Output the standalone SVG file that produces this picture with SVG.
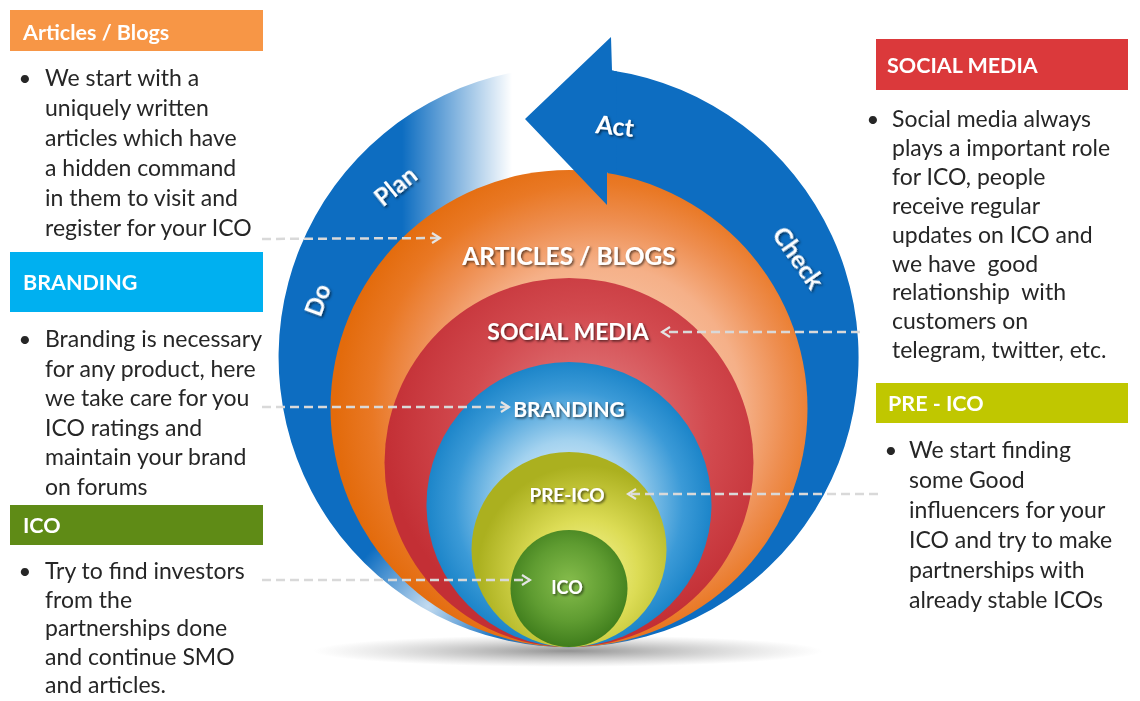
<svg xmlns="http://www.w3.org/2000/svg" width="1140" height="701" viewBox="0 0 1140 701">
<defs>
<style>
.hd{font-family:Lato,"Open Sans",sans-serif;font-weight:700;font-size:21.5px;fill:#ffffff}
.tx{font-family:Lato,"Open Sans",sans-serif;font-size:23px;fill:#262626}
.bl{font-family:Lato,"Open Sans",sans-serif;font-size:22px;fill:#262626;text-anchor:middle}
.lb{font-family:Lato,"Open Sans",sans-serif;font-weight:700;fill:#ffffff;text-anchor:middle}
.cn{fill:none;stroke:#d9d9d9;stroke-width:2.5;stroke-dasharray:9 5}
</style>
<filter id="sh" x="-20%" y="-40%" width="140%" height="180%">
<feDropShadow dx="1.5" dy="1.5" stdDeviation="1" flood-color="#000" flood-opacity="0.6"/>
</filter>
<marker id="ah" viewBox="0 0 12 12" refX="10" refY="6" markerWidth="12" markerHeight="12" markerUnits="userSpaceOnUse" orient="auto">
<path d="M2,1 L10,6 L2,11" fill="none" stroke="#e4e4e4" stroke-width="2.2"/>
</marker>
<radialGradient id="gShadow" cx="0.5" cy="0.5" r="0.5">
<stop offset="0" stop-color="#6e6e6e" stop-opacity="0.75"/>
<stop offset="1" stop-color="#9a9a9a" stop-opacity="0"/>
</radialGradient>
<linearGradient id="gFade" gradientUnits="userSpaceOnUse" x1="402" y1="0" x2="512" y2="0">
<stop offset="0" stop-color="#fff" stop-opacity="0"/>
<stop offset="1" stop-color="#fff" stop-opacity="1"/>
</linearGradient>
<radialGradient id="gLow" cx="0.5" cy="0.5" r="0.5">
<stop offset="0" stop-color="#fff" stop-opacity="0.75"/>
<stop offset="1" stop-color="#fff" stop-opacity="0"/>
</radialGradient>
<radialGradient id="gOr" cx="0.56" cy="0.5" r="0.55">
<stop offset="0" stop-color="#fbdcc6"/>
<stop offset="0.55" stop-color="#f5b088"/>
<stop offset="0.72" stop-color="#ee8e50"/>
<stop offset="0.86" stop-color="#e97824"/>
<stop offset="1" stop-color="#e36b0c"/>
</radialGradient>
<radialGradient id="gRd" cx="0.55" cy="0.42" r="0.55">
<stop offset="0" stop-color="#e7898b"/>
<stop offset="0.6" stop-color="#d24a4f"/>
<stop offset="1" stop-color="#c32f35"/>
</radialGradient>
<radialGradient id="gBl" cx="0.5" cy="0.5" r="0.5">
<stop offset="0" stop-color="#f2f9fd"/>
<stop offset="0.45" stop-color="#a3d2ef"/>
<stop offset="0.8" stop-color="#3b9ad7"/>
<stop offset="1" stop-color="#1c85c9"/>
</radialGradient>
<radialGradient id="gYl" cx="0.58" cy="0.62" r="0.55">
<stop offset="0" stop-color="#f8f79e"/>
<stop offset="0.5" stop-color="#dcdc55"/>
<stop offset="1" stop-color="#abb01f"/>
</radialGradient>
<radialGradient id="gGr" cx="0.5" cy="0.45" r="0.55">
<stop offset="0" stop-color="#86bd4c"/>
<stop offset="0.6" stop-color="#5f9c31"/>
<stop offset="1" stop-color="#3f7d1c"/>
</radialGradient>
</defs>
<rect width="1140" height="701" fill="#ffffff"/>

<g id="cycle">
<path d="M606,200 L612,70.4 A290,290 0 1 1 512,72.7 L512,200 Z" fill="#0d6dc1"/>
<rect x="400" y="40" width="120" height="200" fill="url(#gFade)"/>
<circle cx="428" cy="606" r="80" fill="url(#gLow)"/>
</g>
<ellipse id="shadow" cx="568" cy="651" rx="255" ry="16" fill="url(#gShadow)"/>

<g id="n-articles"><circle cx="569" cy="408.5" r="238.5" fill="url(#gOr)"/></g>
<g id="n-social"><circle cx="569" cy="462.5" r="184.5" fill="url(#gRd)"/></g>
<g id="n-branding"><circle cx="569" cy="504.5" r="142.5" fill="url(#gBl)"/></g>
<g id="n-preico"><circle cx="569" cy="549.5" r="97.5" fill="url(#gYl)"/></g>
<g id="n-ico"><circle cx="569" cy="588.5" r="58.5" fill="url(#gGr)"/></g>

<g id="act-arrow">
<path d="M611,37 L525,119 L607,205 L607,172.5 L616,172 L617,71.5 L612,70.4 Z" fill="#0d6dc1"/>
</g>

<g id="ring-labels" filter="url(#sh)">
<text class="lb" font-size="25" transform="translate(614,135) rotate(6)">Act</text>
<text class="lb" font-size="24" transform="translate(401,193) rotate(-39)">Plan</text>
<text class="lb" font-size="24" transform="translate(326,303) rotate(-70)">Do</text>
<text class="lb" font-size="25" transform="translate(791,263) rotate(55)">Check</text>
</g>

<g id="circle-labels" filter="url(#sh)">
<text class="lb" font-size="24.5" x="569" y="265">ARTICLES / BLOGS</text>
<text class="lb" font-size="23" x="568" y="340">SOCIAL MEDIA</text>
<text class="lb" font-size="21" x="569" y="417">BRANDING</text>
<text class="lb" font-size="19" x="567" y="502">PRE-ICO</text>
<text class="lb" font-size="18" x="567" y="594">ICO</text>
</g>

<g id="connectors">
<line class="cn" x1="262" y1="239" x2="440" y2="238" marker-end="url(#ah)"/>
<line class="cn" x1="860" y1="332" x2="662" y2="332" marker-end="url(#ah)"/>
<line class="cn" x1="262" y1="407" x2="509" y2="407" marker-end="url(#ah)"/>
<line class="cn" x1="878" y1="494" x2="628" y2="494" marker-end="url(#ah)"/>
<line class="cn" x1="262" y1="580" x2="530" y2="580" marker-end="url(#ah)"/>
</g>

<g id="box-articles">
<rect x="10" y="10" width="253" height="41" fill="#f79646"/>
<text class="hd" x="23" y="40">Articles / Blogs</text>
<text class="bl" x="25" y="86">•</text>
<text class="tx" x="45" y="86">We start with a</text>
<text class="tx" x="45" y="116">uniquely written</text>
<text class="tx" x="45" y="146">articles which have</text>
<text class="tx" x="45" y="176">a hidden command</text>
<text class="tx" x="45" y="206">in them to visit and</text>
<text class="tx" x="45" y="236">register for your ICO</text>
</g>

<g id="box-branding">
<rect x="10" y="252" width="253" height="60" fill="#00b0f0"/>
<text class="hd" x="23" y="290">BRANDING</text>
<text class="bl" x="25" y="347">•</text>
<text class="tx" x="45" y="347">Branding is necessary</text>
<text class="tx" x="45" y="376.5">for any product, here</text>
<text class="tx" x="45" y="406">we take care for you</text>
<text class="tx" x="45" y="435.5">ICO ratings and</text>
<text class="tx" x="45" y="465">maintain your brand</text>
<text class="tx" x="45" y="494.5">on forums</text>
</g>

<g id="box-ico">
<rect x="10" y="505" width="253" height="40" fill="#5f8b16"/>
<text class="hd" x="23" y="533">ICO</text>
<text class="bl" x="25" y="579">•</text>
<text class="tx" x="45" y="579">Try to find investors</text>
<text class="tx" x="45" y="607.5">from the</text>
<text class="tx" x="45" y="636">partnerships done</text>
<text class="tx" x="45" y="664.5">and continue SMO</text>
<text class="tx" x="45" y="693">and articles.</text>
</g>

<g id="box-social">
<rect x="876" y="39" width="252" height="51" fill="#db393b"/>
<text class="hd" x="887" y="73">SOCIAL MEDIA</text>
<text class="bl" x="873" y="127">•</text>
<text class="tx" x="892" y="127">Social media always</text>
<text class="tx" x="892" y="156">plays a important role</text>
<text class="tx" x="892" y="185">for ICO, people</text>
<text class="tx" x="892" y="214">receive regular</text>
<text class="tx" x="892" y="243">updates on ICO and</text>
<text class="tx" x="892" y="272" xml:space="preserve">we have  good</text>
<text class="tx" x="892" y="300" xml:space="preserve">relationship  with</text>
<text class="tx" x="892" y="329">customers on</text>
<text class="tx" x="892" y="358">telegram, twitter, etc.</text>
</g>

<g id="box-preico">
<rect x="876" y="383" width="252" height="40" fill="#c0c700"/>
<text class="hd" x="888" y="411">PRE - ICO</text>
<text class="bl" x="891" y="458">•</text>
<text class="tx" x="909" y="458">We start finding</text>
<text class="tx" x="909" y="488">some Good</text>
<text class="tx" x="909" y="518">influencers for your</text>
<text class="tx" x="909" y="548">ICO and try to make</text>
<text class="tx" x="909" y="578">partnerships with</text>
<text class="tx" x="909" y="608">already stable ICOs</text>
</g>
</svg>
